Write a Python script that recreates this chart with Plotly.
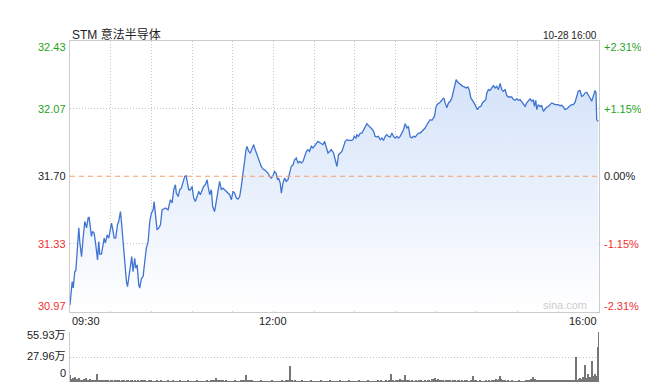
import plotly.graph_objects as go

# ---------------- data ----------------
title_text = "STM 意法半导体"
date_text = "10-28 16:00"
prev_close = 31.70
pct_levels = [2.31, 1.15, 0.0, -1.15, -2.31]
price_labels = ["32.43", "32.07", "31.70", "31.33", "30.97"]
pct_labels = ["+2.31%", "+1.15%", "0.00%", "-1.15%", "-2.31%"]
x_tick_minutes = [0, 150, 390]
x_tick_labels = ["09:30", "12:00", "16:00"]
vol_max = 55.93
vol_tick_vals = [55.93, 27.96, 0]
vol_tick_labels = ["55.93万", "27.96万", "0"]

# minutes after 09:30
minutes = [0, 1.6, 2.4, 3.5, 4.3, 5.5, 6.5, 7.2, 8.5, 9.7, 10.9, 12.2, 13.4, 14.1, 15.1, 15.8, 16.6, 17.8, 19.0, 20.3,
           21.2, 21.9, 23.2, 24.5, 25.2, 26.1, 27.4, 28.6, 29.3, 30.6, 31.3, 32.6, 33.7, 35.0, 35.9, 37.2, 37.9, 39.2, 40.4, 41.6,
           42.4, 43.6, 44.8, 45.5, 46.5, 47.7, 48.5, 49.5, 50.7, 51.4, 52.7, 53.9, 55.1, 56.3, 57.6, 58.8, 60.0, 61.3, 62.0, 63.2,
           64.2, 65.4, 66.7, 67.9, 70.3, 72.3, 74.0, 75.3, 76.5, 77.7, 78.4, 79.7, 80.9, 82.1, 83.4, 84.6, 85.6, 86.8, 87.5, 88.8,
           90.0, 91.2, 92.4, 93.7, 94.9, 96.1, 97.4, 98.5, 99.8, 101.1, 101.8, 103.0, 104.2, 105.2, 106.6, 107.9, 109.2, 110.3, 111.6, 112.8,
           114.0, 115.3, 116.5, 117.7, 119.0, 120.2, 121.4, 122.6, 123.9, 125.1, 126.3, 127.3, 128.5, 129.8, 130.5, 131.7, 132.9, 134.2, 135.4, 136.1,
           137.4, 138.6, 139.8, 141.0, 142.3, 143.5, 144.7, 146.0, 147.2, 148.4, 149.4, 150.8, 151.9, 153.1, 153.8, 155.0, 155.8, 157.0, 158.2, 159.5,
           160.7, 161.9, 163.1, 164.4, 165.6, 166.8, 168.1, 169.3, 170.5, 171.8, 172.9, 174.2, 175.4, 176.6, 177.9, 179.1, 180.3, 181.6, 182.8, 184.0,
           185.2, 186.5, 187.7, 188.9, 190.2, 191.4, 192.6, 194.3, 195.6, 196.8, 198.0, 199.2, 200.5, 201.7, 202.9, 204.2, 205.3, 206.6, 207.8, 209.0,
           209.5, 210.8, 211.5, 212.7, 214.0, 215.2, 216.4, 217.6, 218.9, 220.1, 221.3, 222.6, 223.8, 225.0, 226.3, 227.4, 228.7, 229.9, 231.1, 232.4,
           233.6, 234.8, 236.1, 237.3, 238.5, 239.7, 241.0, 242.2, 243.4, 244.7, 245.9, 247.1, 248.4, 249.5, 250.8, 252.0, 253.2, 254.5, 255.7, 256.9,
           258.2, 260.6, 261.8, 263.8, 265.5, 266.8, 268.0, 268.7, 269.9, 271.2, 272.4, 273.6, 274.9, 275.6, 276.6, 277.8, 279.0, 280.3, 281.5, 282.3,
           283.4, 284.7, 285.9, 287.1, 288.4, 289.6, 290.8, 292.0, 293.3, 294.3, 295.5, 296.7, 297.9, 299.2, 300.4, 301.6, 302.9, 304.0, 305.3, 306.5,
           307.3, 308.5, 309.7, 311.0, 312.1, 313.4, 314.6, 315.8, 317.1, 318.3, 319.5, 320.8, 322.0, 323.2, 324.4, 325.7, 326.9, 328.1, 329.4, 330.6,
           331.8, 333.1, 334.2, 335.5, 336.7, 337.9, 339.2, 340.4, 341.6, 342.4, 343.4, 344.1, 345.3, 346.5, 347.8, 349.0, 350.2, 351.5, 352.7, 353.9,
           355.1, 356.3, 357.6, 358.8, 360.0, 361.3, 362.5, 363.7, 365.0, 366.2, 367.4, 368.6, 369.9, 371.1, 372.3, 373.6, 374.7, 376.0, 377.2, 378.4,
           379.7, 380.9, 382.1, 383.4, 384.6, 385.8, 387.1, 387.8, 388.3, 389.5]

prices = [31.003, 31.130, 31.095, 31.184, 31.188, 31.329, 31.421, 31.346, 31.265, 31.367, 31.455, 31.421, 31.475, 31.477, 31.421, 31.374, 31.401, 31.392, 31.329, 31.247,
          31.346, 31.278, 31.278, 31.329, 31.365, 31.338, 31.383, 31.365, 31.401, 31.446, 31.421, 31.365, 31.365, 31.437, 31.455, 31.509, 31.455, 31.329, 31.220, 31.130,
          31.102, 31.166, 31.220, 31.265, 31.184, 31.256, 31.202, 31.220, 31.112, 31.094, 31.148, 31.157, 31.238, 31.311, 31.346, 31.455, 31.500, 31.518, 31.563, 31.491,
          31.410, 31.419, 31.437, 31.518, 31.528, 31.518, 31.573, 31.555, 31.627, 31.654, 31.609, 31.590, 31.627, 31.636, 31.663, 31.699, 31.703, 31.663, 31.627, 31.627,
          31.645, 31.582, 31.563, 31.590, 31.618, 31.600, 31.627, 31.645, 31.654, 31.681, 31.645, 31.600, 31.627, 31.536, 31.509, 31.573, 31.618, 31.672, 31.627, 31.636,
          31.627, 31.618, 31.609, 31.600, 31.573, 31.618, 31.609, 31.582, 31.576, 31.590, 31.645, 31.699, 31.789, 31.844, 31.862, 31.834, 31.826, 31.853, 31.871, 31.853,
          31.826, 31.807, 31.772, 31.753, 31.739, 31.735, 31.726, 31.717, 31.699, 31.690, 31.699, 31.726, 31.717, 31.681, 31.690, 31.663, 31.609, 31.663, 31.690, 31.672,
          31.681, 31.726, 31.753, 31.762, 31.789, 31.799, 31.772, 31.780, 31.772, 31.780, 31.807, 31.834, 31.844, 31.834, 31.862, 31.853, 31.865, 31.880, 31.889, 31.883,
          31.876, 31.871, 31.889, 31.853, 31.826, 31.834, 31.844, 31.826, 31.789, 31.753, 31.817, 31.826, 31.834, 31.862, 31.889, 31.898, 31.894, 31.894, 31.894, 31.902,
          31.916, 31.907, 31.925, 31.916, 31.934, 31.934, 31.952, 31.974, 31.985, 31.974, 31.967, 31.956, 31.943, 31.916, 31.913, 31.916, 31.898, 31.907, 31.894, 31.916,
          31.925, 31.916, 31.913, 31.934, 31.916, 31.907, 31.916, 31.907, 31.916, 31.934, 31.952, 31.985, 31.961, 31.970, 31.913, 31.907, 31.916, 31.913, 31.925, 31.934,
          31.934, 31.952, 31.961, 31.988, 32.006, 32.003, 32.016, 32.024, 32.078, 32.093, 32.097, 32.106, 32.115, 32.124, 32.097, 32.070, 32.097, 32.106, 32.124, 32.151,
          32.196, 32.223, 32.209, 32.202, 32.191, 32.187, 32.184, 32.178, 32.184, 32.169, 32.124, 32.106, 32.097, 32.078, 32.061, 32.075, 32.078, 32.097, 32.106, 32.115,
          32.151, 32.169, 32.165, 32.178, 32.191, 32.178, 32.187, 32.169, 32.202, 32.169, 32.160, 32.169, 32.137, 32.129, 32.129, 32.129, 32.115, 32.111, 32.119, 32.111,
          32.115, 32.100, 32.093, 32.078, 32.097, 32.111, 32.119, 32.106, 32.115, 32.078, 32.111, 32.061, 32.088, 32.078, 32.082, 32.051, 32.064, 32.075, 32.078, 32.088,
          32.097, 32.093, 32.088, 32.088, 32.088, 32.082, 32.084, 32.075, 32.061, 32.064, 32.075, 32.082, 32.088, 32.088, 32.100, 32.142, 32.160, 32.165, 32.133, 32.137,
          32.151, 32.154, 32.142, 32.124, 32.106, 32.142, 32.165, 32.151, 32.006, 31.997]

# volume per minute (万股), minute 0..390
volumes = [7.5, 3.2, 4.8, 2.1, 5.6, 3.0, 2.4, 4.1, 1.8, 2.6, 3.5, 1.9, 4.4, 2.2, 1.6, 3.8, 2.0, 1.5, 2.7, 1.9, 8.6, 2.3, 1.4, 1.8, 1.2, 2.1, 1.6, 1.3, 1.9, 1.1,
           1.4, 2.2, 1.0, 1.6, 2.5, 1.3, 1.8, 1.1, 1.5, 1.2, 1.9, 0.9, 1.3, 1.7, 1.0, 1.4, 1.2, 0.8, 1.5, 1.1, 1.3, 0.9, 1.6, 1.0, 1.2, 1.4, 0.9, 1.1, 1.3, 1.0,
           1.2, 0.9, 1.1, 0.8, 1.3, 1.0, 0.9, 1.2, 0.8, 1.0, 1.1, 0.9, 1.4, 0.8, 1.0, 0.9, 1.2, 0.8, 1.1, 1.0, 0.9, 1.3, 0.8, 1.0, 1.1, 0.9, 0.8, 1.2, 1.0, 0.9,
           1.0, 0.8, 1.1, 0.9, 1.2, 0.8, 1.0, 0.9, 1.1, 0.8, 1.0, 1.3, 0.9, 1.0, 1.8, 2.2, 1.4, 1.9, 4.6, 1.6, 1.2, 2.0, 1.1, 1.4, 0.9, 1.2, 1.0, 0.9, 1.1, 0.8,
           1.0, 0.9, 1.2, 0.8, 1.1, 1.0, 1.5, 1.3, 2.1, 1.6, 7.8, 2.4, 1.8, 1.2, 1.5, 1.0, 0.9, 1.1, 0.8, 1.0, 0.9, 1.2, 0.8, 1.0, 0.9, 1.1, 0.8, 1.0, 0.9, 1.2,
           0.9, 1.0, 0.8, 1.1, 0.9, 1.0, 1.2, 0.8, 1.0, 1.3, 1.1, 1.6, 17.8, 2.2, 1.5, 1.0, 1.3, 0.9, 1.1, 1.0, 0.8, 1.2, 0.9, 1.0, 1.1, 0.8, 1.0, 0.9, 1.2, 0.8,
           1.0, 0.9, 1.1, 0.8, 1.0, 1.2, 0.9, 1.0, 0.8, 1.1, 0.9, 1.0, 1.3, 0.8, 1.0, 0.9, 1.1, 0.8, 1.0, 1.2, 0.9, 1.0, 0.8, 1.1, 0.9, 1.0, 1.4, 0.8, 1.0, 0.9,
           1.1, 1.0, 0.8, 1.2, 0.9, 1.0, 1.1, 0.8, 1.0, 0.9, 1.2, 0.8, 1.0, 1.1, 0.9, 1.0, 0.8, 1.2, 0.9, 1.3, 1.0, 0.8, 1.1, 1.5, 0.9, 1.2, 2.4, 9.2, 1.6, 1.1,
           1.3, 1.0, 2.1, 3.0, 1.2, 1.6, 2.2, 8.1, 1.5, 1.9, 1.2, 1.0, 1.3, 0.9, 1.1, 1.4, 1.0, 1.2, 0.9, 1.6, 1.1, 1.0, 1.3, 0.9, 1.2, 1.5, 1.0, 2.8, 3.4, 4.7,
           2.6, 3.1, 2.2, 1.5, 1.2, 1.4, 1.0, 1.3, 1.1, 1.6, 1.2, 0.9, 1.4, 1.1, 1.3, 1.0, 1.5, 1.2, 1.1, 1.4, 1.0, 1.2, 0.9, 1.3, 1.1, 1.0, 2.0, 6.6, 1.4, 1.2,
           1.0, 0.9, 1.2, 1.0, 0.8, 1.1, 0.9, 1.2, 1.0, 1.4, 1.1, 1.8, 2.6, 2.2, 3.1, 2.4, 3.5, 6.4, 2.8, 1.6, 1.2, 1.4, 1.0, 1.3, 1.1, 0.9, 1.2, 1.0, 1.1, 0.9,
           1.0, 1.2, 0.9, 1.1, 1.0, 0.8, 1.2, 1.5, 1.3, 2.0, 3.2, 5.4, 2.1, 3.0, 1.7, 1.4, 2.2, 1.3, 1.6, 1.2, 1.4, 1.1, 1.5, 1.2, 1.3, 1.6, 1.1, 1.4, 1.2, 1.5,
           1.3, 1.6, 1.2, 1.4, 1.8, 1.3, 1.5, 1.2, 1.6, 1.4, 1.7, 1.3, 2.0, 28.0, 2.4, 3.6, 4.4, 3.2, 5.1, 3.8, 19.2, 4.6, 9.0, 5.3, 3.7, 23.6, 6.2, 9.4, 7.1, 39.0,
           55.93]
vol_minutes = list(range(len(volumes)))

# ---------------- styling ----------------
FONT = "Liberation Sans, Arial, Noto Sans CJK SC, sans-serif"
GREEN = "#1fa51f"
RED = "#f03030"
BLACK = "#222222"
GRID = "#c6c6c6"
GRIDDASH = "1px,2px"
BORDER = "#cccccc"
LINE = "#3f74d3"

y_high = prev_close * (1 + pct_levels[0] / 100)
y_low = prev_close * (1 + pct_levels[-1] / 100)
level_prices = [prev_close * (1 + p / 100) for p in pct_levels]
grid_prices = [lv for lv, p in zip(level_prices, pct_levels) if abs(p) not in (0.0, 2.31)]

main_dom = [0.2067, 1.0]
vol_dom = [0.0, 0.1466]

fig = go.Figure()
fig.add_trace(go.Scatter(x=[minutes[0], minutes[-1]], y=[y_low, y_low], mode="lines",
                         line=dict(width=0, color="rgba(0,0,0,0)"), hoverinfo="skip",
                         xaxis="x", yaxis="y"))
fig.add_trace(go.Scatter(x=minutes, y=prices, mode="lines",
                         line=dict(color=LINE, width=1.3),
                         fill="tonexty",
                         fillgradient=dict(type="vertical",
                                           colorscale=[[0, "rgba(255,255,255,1)"],
                                                       [1, "rgba(213,227,249,1)"]]),
                         hoverinfo="skip", xaxis="x", yaxis="y"))
fig.add_trace(go.Bar(x=vol_minutes, y=volumes, width=0.75,
                     marker=dict(color="#767676", line=dict(width=0)),
                     hoverinfo="skip", xaxis="x2", yaxis="y2"))

annotations = []
# title and date
annotations.append(dict(text=title_text, xref="paper", yref="paper", x=0, y=1,
                        xanchor="left", yanchor="bottom", yshift=-3, showarrow=False,
                        font=dict(family=FONT, size=12, color=BLACK)))
annotations.append(dict(text=date_text, xref="paper", yref="paper", x=1, y=1,
                        xanchor="right", yanchor="bottom", yshift=-2, showarrow=False,
                        font=dict(family=FONT, size=10, color=BLACK)))
# price and percent labels
shifts = [-5.5, 0, 0, 0, 6]
for lv, pl, pc, p, sh in zip(level_prices, price_labels, pct_labels, pct_levels, shifts):
    col = GREEN if p > 0 else (RED if p < 0 else BLACK)
    annotations.append(dict(text=pl, xref="paper", yref="y", x=0, y=lv, xanchor="right",
                            yanchor="middle", xshift=-2, yshift=sh, showarrow=False,
                            font=dict(family=FONT, size=11, color=col)))
    annotations.append(dict(text=pc, xref="paper", yref="y", x=1, y=lv, xanchor="left",
                            yanchor="middle", xshift=3, yshift=sh, showarrow=False,
                            font=dict(family=FONT, size=11, color=col)))
# x tick labels
anchors = ["left", "center", "right"]
for m, lab, anc in zip(x_tick_minutes, x_tick_labels, anchors):
    annotations.append(dict(text=lab, xref="x", yref="paper", x=m, y=main_dom[0],
                            xanchor=anc, yanchor="top", yshift=-1, showarrow=False,
                            font=dict(family=FONT, size=11, color=BLACK)))
# volume labels
vshifts = [-3, 1.5, 9]
for v, lab, sh in zip(vol_tick_vals, vol_tick_labels, vshifts):
    annotations.append(dict(text=lab, xref="paper", yref="y2", x=0, y=v, xanchor="right",
                            yanchor="middle", xshift=-2, yshift=sh, showarrow=False,
                            font=dict(family=FONT, size=11, color=BLACK)))
# watermark
annotations.append(dict(text="sina.com", xref="paper", yref="y", x=1, y=y_low,
                        xanchor="right", yanchor="bottom", xshift=-10, yshift=-1, showarrow=False,
                        font=dict(family=FONT, size=11, color="#cdcdcd")))

# page body has an 8px margin, so the figure is sized to fit inside the 649x390 window
fig.update_layout(
    width=633, height=374,
    margin=dict(l=62, r=42, t=33, b=0, autoexpand=False),
    paper_bgcolor="white", plot_bgcolor="white",
    showlegend=False, hovermode=False,
    font=dict(family=FONT, size=11, color=BLACK),
    xaxis=dict(domain=[0, 1], range=[0, 390], tickvals=list(range(30, 390, 30)),
               showticklabels=False, ticks="", showgrid=True, gridcolor=GRID, griddash=GRIDDASH,
               gridwidth=1, showline=True, mirror=True, linecolor=BORDER, linewidth=1,
               zeroline=False, anchor="y"),
    yaxis=dict(domain=main_dom, range=[y_low, y_high], tickvals=grid_prices,
               showticklabels=False, ticks="", showgrid=True, gridcolor=GRID, griddash=GRIDDASH,
               gridwidth=1, showline=True, mirror=True, linecolor=BORDER, linewidth=1,
               zeroline=False, anchor="x"),
    xaxis2=dict(domain=[0, 1], range=[0, 390], showticklabels=False, ticks="", showgrid=False,
                showline=False, zeroline=False, anchor="y2"),
    yaxis2=dict(domain=vol_dom, range=[0, vol_max], tickvals=vol_tick_vals[:2],
                showticklabels=False, ticks="", showgrid=True, gridcolor=GRID, griddash=GRIDDASH,
                gridwidth=1, showline=True, linecolor=BORDER, linewidth=1, zeroline=False,
                anchor="x2"),
    shapes=[dict(type="line", xref="paper", yref="y", x0=0, x1=1, y0=prev_close, y1=prev_close,
                 line=dict(color="#f3a06a", width=1, dash="5px,4px"))],
    annotations=annotations,
    bargap=0,
)

fig.write_html("out.html")
